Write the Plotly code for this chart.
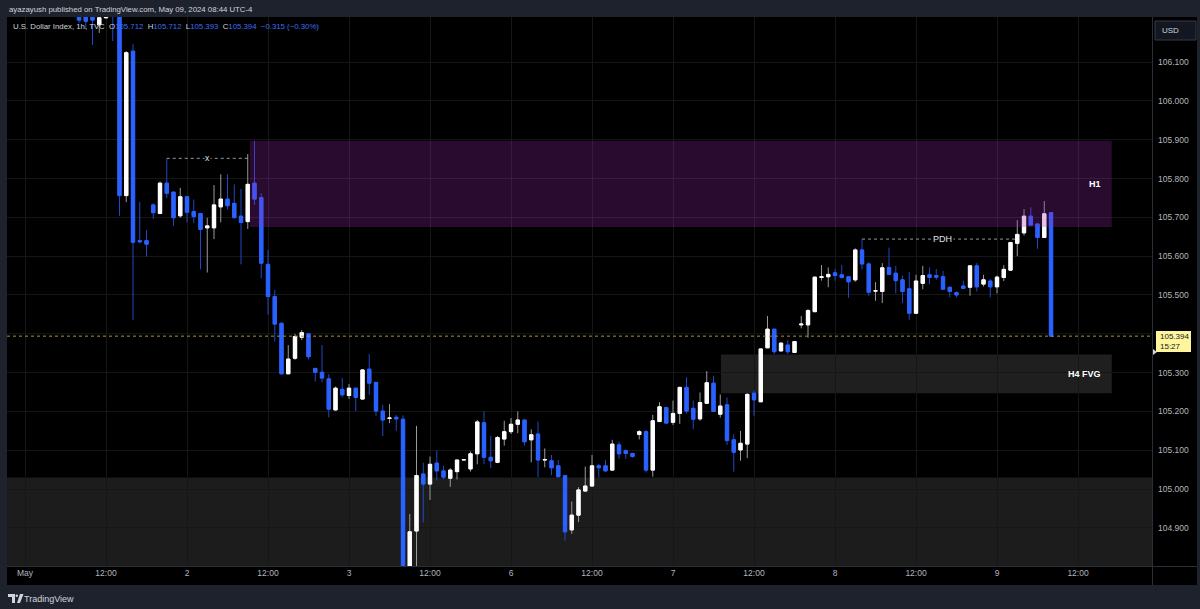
import plotly.graph_objects as go

# ---------------- data (U.S. Dollar Index, 1h, TVC) ----------------
bar_index = list(range(153))
opens = [106.42, 106.44, 106.41, 106.39, 106.42, 106.40, 106.35, 106.31, 106.28, 106.23,
         106.24, 106.196, 106.214, 106.25, 106.22, 105.756, 106.128, 105.640, 105.640, 105.732,
         105.710, 105.788, 105.765, 105.704, 105.753, 105.715, 105.710, 105.673, 105.673, 105.727,
         105.747, 105.736, 105.703, 105.689, 105.788, 105.751, 105.579, 105.496, 105.427, 105.297,
         105.337, 105.391, 105.400, 105.311, 105.301, 105.284, 105.204, 105.257, 105.241, 105.260,
         105.232, 105.309, 105.275, 105.201, 105.182, 105.185, 105.180, 104.720, 104.892, 105.039,
         105.013, 105.067, 105.047, 105.028, 105.045, 105.075, 105.052, 105.091, 105.171, 105.082,
         105.069, 105.129, 105.148, 105.167, 105.178, 105.127, 105.142, 105.075, 105.073, 105.060,
         105.035, 104.895, 104.933, 104.995, 105.008, 105.060, 105.060, 105.049, 105.114, 105.099,
         105.092, 105.141, 105.148, 105.049, 105.174, 105.210, 105.172, 105.195, 105.262, 105.208,
         105.181, 105.221, 105.273, 105.193, 105.217, 105.127, 105.101, 105.116, 105.247, 105.225,
         105.364, 105.412, 105.356, 105.371, 105.352, 105.423, 105.423, 105.457, 105.545, 105.547,
         105.557, 105.552, 105.547, 105.539, 105.616, 105.580, 105.510, 105.509, 105.571, 105.556,
         105.539, 105.516, 105.453, 105.530, 105.552, 105.550, 105.547, 105.520, 105.506, 105.523,
         105.520, 105.575, 105.528, 105.536, 105.521, 105.545, 105.564, 105.633, 105.660, 105.703,
         105.683, 105.648, 105.712]
highs = [106.47, 106.48, 106.45, 106.43, 106.46, 106.44, 106.38, 106.34, 106.30, 106.25,
         106.26, 106.23, 106.25, 106.27, 106.30, 106.128, 106.146, 105.740, 105.667, 105.736,
         105.792, 105.852, 105.765, 105.776, 105.753, 105.746, 105.710, 105.699, 105.783, 105.811,
         105.811, 105.785, 105.773, 105.863, 105.897, 105.762, 105.616, 105.513, 105.430, 105.371,
         105.400, 105.410, 105.400, 105.311, 105.371, 105.296, 105.264, 105.286, 105.271, 105.260,
         105.309, 105.348, 105.275, 105.217, 105.219, 105.191, 105.190, 104.936, 105.163, 105.068,
         105.084, 105.099, 105.060, 105.054, 105.075, 105.077, 105.097, 105.178, 105.201, 105.137,
         105.137, 105.176, 105.183, 105.200, 105.178, 105.154, 105.174, 105.105, 105.088, 105.075,
         105.035, 104.968, 105.005, 105.058, 105.088, 105.065, 105.075, 105.127, 105.122, 105.103,
         105.092, 105.152, 105.152, 105.191, 105.224, 105.212, 105.228, 105.264, 105.288, 105.228,
         105.249, 105.304, 105.292, 105.244, 105.236, 105.141, 105.150, 105.247, 105.255, 105.363,
         105.446, 105.412, 105.378, 105.384, 105.381, 105.446, 105.464, 105.546, 105.577, 105.571,
         105.567, 105.577, 105.547, 105.620, 105.644, 105.584, 105.533, 105.582, 105.622, 105.575,
         105.550, 105.559, 105.552, 105.575, 105.571, 105.567, 105.562, 105.520, 105.509, 105.537,
         105.577, 105.582, 105.552, 105.541, 105.550, 105.577, 105.637, 105.693, 105.721, 105.726,
         105.683, 105.742, 105.712]
lows = [106.38, 106.40, 106.37, 106.35, 106.38, 106.33, 106.29, 106.26, 106.200, 106.185,
        106.144, 106.175, 106.212, 106.154, 105.704, 105.739, 105.436, 105.633, 105.599, 105.696,
        105.708, 105.749, 105.678, 105.699, 105.687, 105.685, 105.566, 105.558, 105.644, 105.687,
        105.721, 105.699, 105.579, 105.670, 105.732, 105.543, 105.449, 105.380, 105.297, 105.297,
        105.333, 105.384, 105.334, 105.277, 105.275, 105.185, 105.202, 105.236, 105.232, 105.201,
        105.230, 105.243, 105.189, 105.137, 105.170, 105.150, 104.600, 104.520, 104.750, 104.914,
        104.972, 105.022, 105.025, 105.006, 105.025, 105.074, 105.045, 105.064, 105.064, 105.054,
        105.067, 105.112, 105.142, 105.144, 105.112, 105.069, 105.031, 105.056, 105.036, 105.030,
        104.867, 104.885, 104.915, 104.995, 105.006, 105.030, 105.045, 105.048, 105.078, 105.078,
        105.081, 105.128, 105.043, 105.032, 105.174, 105.167, 105.165, 105.168, 105.195, 105.154,
        105.176, 105.221, 105.200, 105.184, 105.114, 105.045, 105.073, 105.080, 105.189, 105.225,
        105.364, 105.348, 105.354, 105.348, 105.352, 105.414, 105.390, 105.457, 105.537, 105.520,
        105.537, 105.542, 105.493, 105.534, 105.566, 105.498, 105.485, 105.479, 105.553, 105.504,
        105.479, 105.436, 105.453, 105.515, 105.528, 105.539, 105.515, 105.494, 105.494, 105.515,
        105.498, 105.509, 105.522, 105.494, 105.504, 105.536, 105.564, 105.600, 105.653, 105.680,
        105.619, 105.648, 105.393]
closes = [106.44, 106.41, 106.39, 106.42, 106.40, 106.35, 106.31, 106.28, 106.208, 106.205,
          106.208, 106.214, 106.218, 106.22, 105.756, 106.124, 105.636, 105.637, 105.631, 105.712,
          105.788, 105.762, 105.699, 105.753, 105.713, 105.702, 105.669, 105.678, 105.732, 105.747,
          105.730, 105.699, 105.687, 105.785, 105.747, 105.582, 105.496, 105.425, 105.297, 105.335,
          105.393, 105.403, 105.341, 105.301, 105.286, 105.206, 105.260, 105.243, 105.260, 105.236,
          105.307, 105.273, 105.201, 105.178, 105.183, 105.181, 104.720, 104.890, 105.035, 105.013,
          105.064, 105.047, 105.031, 105.049, 105.075, 105.076, 105.091, 105.173, 105.082, 105.073,
          105.133, 105.148, 105.167, 105.178, 105.122, 105.140, 105.075, 105.076, 105.055, 105.032,
          104.890, 104.933, 104.998, 105.008, 105.060, 105.055, 105.047, 105.116, 105.091, 105.092,
          105.084, 105.148, 105.049, 105.176, 105.212, 105.170, 105.195, 105.262, 105.201, 105.180,
          105.223, 105.274, 105.200, 105.214, 105.125, 105.095, 105.118, 105.244, 105.230, 105.361,
          105.412, 105.354, 105.376, 105.354, 105.380, 105.425, 105.460, 105.546, 105.547, 105.553,
          105.550, 105.545, 105.534, 105.616, 105.580, 105.507, 105.511, 105.570, 105.553, 105.537,
          105.509, 105.453, 105.536, 105.550, 105.545, 105.546, 105.515, 105.509, 105.500, 105.517,
          105.575, 105.521, 105.539, 105.521, 105.546, 105.566, 105.635, 105.656, 105.703, 105.680,
          105.648, 105.709, 105.394]

x_tick_index = [0, 12, 24, 36, 48, 60, 72, 84, 96, 108, 120, 132, 144, 156]
x_tick_text = ["May", "12:00", "2", "12:00", "3", "12:00", "6", "12:00", "7", "12:00", "8", "12:00", "9", "12:00"]
y_tick_vals = [104.9, 105.0, 105.1, 105.2, 105.3, 105.5, 105.6, 105.7, 105.8, 105.9, 106.0, 106.1]
y_grid_vals = [105.4]

# zones / levels
h1_zone = (105.675, 105.897)
fvg_zone = (105.247, 105.347)
bottom_zone_top = 105.030
sweep_bar, sweep_end = 21, 33
pdh_bar, pdh_end = 124, 146.7
h1_left, fvg_left, zone_right = 33.3, 103.1, 161.0

# ---------------- layout geometry ----------------
W, H = 1200, 609
L, R, T, B = 7, 1152, 17, 566          # pixel coords of plot area
X_RANGE = [-2.667, 166.96]
Y_RANGE = [104.802, 106.216]


def px(xp):
    """pixel x -> paper x"""
    return (xp - L) / (R - L)


def py(yp):
    """pixel y -> paper y"""
    return (B - yp) / (B - T)


BLUE = "#2962ff"
BLUE_WICK = "#2147c4"
WHITE = "#ffffff"
WHITE_WICK = "#9a9a9a"
AXIS_TXT = "#b2b5be"
GRID = "#161616"
FONT = "Liberation Sans"

fig = go.Figure()

# full candles (wicks)
fig.add_trace(go.Candlestick(
    x=bar_index, open=opens, high=highs, low=lows, close=closes,
    increasing=dict(line=dict(color=WHITE_WICK, width=1), fillcolor=WHITE),
    decreasing=dict(line=dict(color=BLUE_WICK, width=1), fillcolor=BLUE),
    hoverinfo="skip", showlegend=False))
# body overlay (no wicks) to hide darker outline
body_top = [max(o, c) for o, c in zip(opens, closes)]
body_bot = [min(o, c) for o, c in zip(opens, closes)]
fig.add_trace(go.Candlestick(
    x=bar_index, open=opens, high=body_top, low=body_bot, close=closes,
    increasing=dict(line=dict(color=WHITE, width=1), fillcolor=WHITE),
    decreasing=dict(line=dict(color=BLUE, width=1), fillcolor=BLUE),
    hoverinfo="skip", showlegend=False))

last_close = closes[-1]
prev_close = closes[-2]
chg = last_close - prev_close
chg_pct = chg / prev_close * 100

shapes = []
# black chart canvas incl. axes
shapes.append(dict(type="rect", xref="paper", yref="paper", x0=px(7), x1=px(1197), y0=py(585), y1=py(17),
                   fillcolor="#000000", line=dict(width=0), layer="below"))
# bottom zone
shapes.append(dict(type="rect", xref="paper", yref="y", x0=0, x1=1, y0=Y_RANGE[0], y1=bottom_zone_top,
                   fillcolor="#1c1c1c", line=dict(width=0), layer="below"))
# H4 FVG zone
shapes.append(dict(type="rect", xref="x", yref="y", x0=fvg_left, x1=zone_right, y0=fvg_zone[0], y1=fvg_zone[1],
                   fillcolor="#1f1f1f", line=dict(width=0), layer="below"))
# grid line hidden behind the price label on the axis
for gv in y_grid_vals:
    shapes.append(dict(type="line", xref="paper", yref="y", x0=0, x1=1, y0=gv, y1=gv,
                       line=dict(color=GRID, width=1), layer="below"))
# H1 zone (translucent, above candles)
shapes.append(dict(type="rect", xref="x", yref="y", x0=h1_left, x1=zone_right, y0=h1_zone[0], y1=h1_zone[1],
                   fillcolor="rgba(156,39,176,0.27)", line=dict(width=0), layer="above"))
# last price dotted line
shapes.append(dict(type="line", xref="paper", yref="y", x0=0, x1=1, y0=last_close, y1=last_close,
                   line=dict(color="#a8913c", width=1, dash="dot"), layer="above"))
# sweep high dashed line
shapes.append(dict(type="line", xref="x", yref="y", x0=sweep_bar, x1=sweep_end,
                   y0=highs[sweep_bar], y1=highs[sweep_bar],
                   line=dict(color="#9598a1", width=1, dash="3px,3px"), layer="above"))
# PDH dashed line
shapes.append(dict(type="line", xref="x", yref="y", x0=pdh_bar, x1=pdh_end,
                   y0=highs[pdh_bar], y1=highs[pdh_bar],
                   line=dict(color="#9598a1", width=1, dash="3px,3px"), layer="above"))
# axis separators
shapes.append(dict(type="line", xref="paper", yref="paper", x0=px(1152.5), x1=px(1152.5), y0=py(585), y1=py(17),
                   line=dict(color="#2a2e39", width=1), layer="above"))
shapes.append(dict(type="line", xref="paper", yref="paper", x0=px(7), x1=px(1197), y0=py(566.5), y1=py(566.5),
                   line=dict(color="#2a2e39", width=1), layer="above"))
# last price label box
shapes.append(dict(type="rect", xref="paper", yref="paper", x0=px(1156), x1=px(1191), y0=py(352), y1=py(331),
                   fillcolor="#fff59d", line=dict(width=0), layer="above"))
shapes.append(dict(type="path", xref="paper", yref="paper",
                   path=f"M {px(1153)} {py(349)} L {px(1157)} {py(352)} L {px(1153)} {py(355)} Z",
                   fillcolor="#d1d4dc", line=dict(width=0), layer="above"))
# USD box
shapes.append(dict(type="rect", xref="paper", yref="paper", x0=px(1155), x1=px(1196), y0=py(40), y1=py(21),
                   fillcolor="#131722", line=dict(color="#363a45", width=1), layer="above"))
# TradingView logo (approximate)
shapes.append(dict(type="rect", xref="paper", yref="paper", x0=px(8), x1=px(15), y0=py(597), y1=py(594),
                   fillcolor="#d1d4dc", line=dict(width=0)))
shapes.append(dict(type="rect", xref="paper", yref="paper", x0=px(12), x1=px(15), y0=py(603), y1=py(594),
                   fillcolor="#d1d4dc", line=dict(width=0)))
shapes.append(dict(type="circle", xref="paper", yref="paper", x0=px(15.5), x1=px(18), y0=py(597), y1=py(594.5),
                   fillcolor="#d1d4dc", line=dict(width=0)))
shapes.append(dict(type="path", xref="paper", yref="paper",
                   path=f"M {px(20)} {py(594)} L {px(23.5)} {py(594)} L {px(20)} {py(603)} L {px(17)} {py(603)} Z",
                   fillcolor="#d1d4dc", line=dict(width=0)))

blue_txt = "#3c6ef5"
sp = "&nbsp;&nbsp;"
legend_txt = (
    f"U.S. Dollar Index, 1h, TVC{sp}O<span style='color:{blue_txt}'>{opens[-1]:.3f}</span>"
    f"{sp}H<span style='color:{blue_txt}'>{highs[-1]:.3f}</span>"
    f"{sp}L<span style='color:{blue_txt}'>{lows[-1]:.3f}</span>"
    f"{sp}C<span style='color:{blue_txt}'>{last_close:.3f}</span>"
    f"{sp}<span style='color:{blue_txt}'>{chg:+.3f} ({chg_pct:+.2f}%)</span>"
).replace("+-", "-").replace("-0.", "\u22120.")

annotations = [
    dict(text="ayazayush published on TradingView.com, May 09, 2024 08:44 UTC-4", xref="paper", yref="paper",
         x=px(7), y=py(9.5), xanchor="left", yanchor="middle", showarrow=False,
         font=dict(family=FONT, size=7.8, color="#d1d4dc")),
    dict(text=legend_txt, xref="paper", yref="paper", x=px(11), y=py(26.5), xanchor="left", yanchor="middle",
         showarrow=False, font=dict(family=FONT, size=7.8, color="#d1d4dc")),
    dict(text="x", xref="x", yref="y", x=(sweep_bar + sweep_end) / 2, y=highs[sweep_bar], showarrow=False,
         font=dict(family=FONT, size=8.5, color="#e0e3eb"), bgcolor="#000000", borderpad=0),
    dict(text="PDH", xref="x", yref="y", x=(pdh_bar + pdh_end) / 2 + 0.5, y=highs[pdh_bar], showarrow=False,
         font=dict(family=FONT, size=9, color="#e0e3eb"), bgcolor="#000000", borderpad=1),
    dict(text="<b>H1</b>", xref="x", yref="y", x=zone_right - 1.3, y=(h1_zone[0] + h1_zone[1]) / 2,
         xanchor="right", showarrow=False, font=dict(family=FONT, size=9, color="#ffffff")),
    dict(text="<b>H4 FVG</b>", xref="x", yref="y", x=zone_right - 1.3, y=(fvg_zone[0] + fvg_zone[1]) / 2,
         xanchor="right", showarrow=False, font=dict(family=FONT, size=9, color="#ffffff")),
    dict(text=f"{last_close:.3f}<br>15:27", xref="paper", yref="paper", x=px(1158), y=py(341.5),
         xanchor="left", yanchor="middle", align="left", showarrow=False,
         font=dict(family=FONT, size=8, color="#131722")),
    dict(text="USD", xref="paper", yref="paper", x=px(1160), y=py(30.5), xanchor="left", yanchor="middle",
         showarrow=False, font=dict(family=FONT, size=8, color="#d1d4dc")),
    dict(text="TradingView", xref="paper", yref="paper", x=px(22), y=py(599), xanchor="left", yanchor="middle",
         showarrow=False, font=dict(family=FONT, size=9, color="#d1d4dc")),
]

fig.update_layout(
    width=W, height=H,
    margin=dict(l=L, r=W - R, t=T, b=H - B, pad=0, autoexpand=False),
    paper_bgcolor="#1e222d",
    plot_bgcolor="#000000",
    showlegend=False,
    shapes=shapes,
    annotations=annotations,
    xaxis=dict(type="linear", range=X_RANGE, tickvals=x_tick_index, ticktext=x_tick_text,
               showgrid=True, gridcolor=GRID, gridwidth=1, zeroline=False, showline=False, ticks="",
               tickfont=dict(family=FONT, size=8.5, color=AXIS_TXT), rangeslider=dict(visible=False),
               fixedrange=True),
    yaxis=dict(range=Y_RANGE, side="right", tickvals=y_tick_vals, tickformat=".3f",
               showgrid=True, gridcolor=GRID, gridwidth=1, zeroline=False, showline=False, ticks="",
               ticklabelstandoff=5, tickfont=dict(family=FONT, size=8.5, color=AXIS_TXT), fixedrange=True),
    hovermode=False,
)

# remove the default page margin so the 1200x609 figure fills the window exactly
page_css = ("document.body.style.margin='0';document.body.style.padding='0';"
            "document.body.style.background='#1e222d';document.body.style.overflow='hidden';")
fig.write_html("out.html", post_script=page_css, config={"displayModeBar": False, "staticPlot": True})
